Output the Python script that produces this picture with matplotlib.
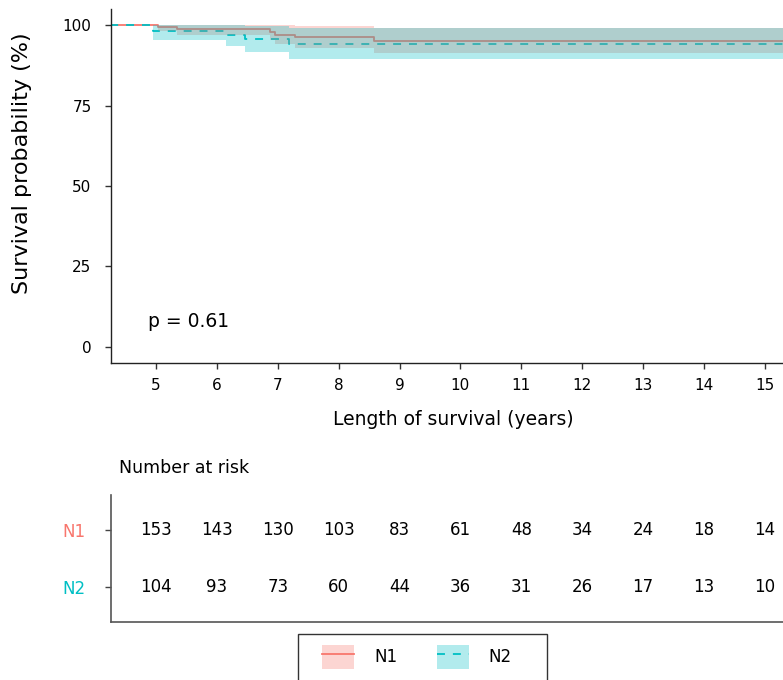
import matplotlib.pyplot as plt
from matplotlib.patches import Patch, Rectangle
from matplotlib.lines import Line2D

plt.rc('font', family='DejaVu Sans')

red_n1 = '#F8766D'
cyan_n2 = '#00BFC4'

# Kaplan-Meier steps (survival in %)
n1_time = [0, 5.03, 5.35, 6.88, 6.95, 7.29, 8.58, 16]
n1_surv = [100, 99.35, 98.7, 97.9, 97.0, 96.2, 95.1, 95.1]
n1_lower = [100, 98.1, 96.9, 95.5, 94.2, 92.9, 91.3, 91.3]
n1_upper = [100, 100, 100, 100, 99.9, 99.7, 99.2, 99.2]

n2_time = [0, 4.95, 6.15, 6.46, 7.18, 16]
n2_surv = [100, 98.1, 96.8, 95.6, 94.2, 94.2]
n2_lower = [100, 95.4, 93.5, 91.6, 89.6, 89.6]
n2_upper = [100, 100, 100, 99.8, 99.2, 99.2]

risk_times = [5, 6, 7, 8, 9, 10, 11, 12, 13, 14, 15]
risk_n1 = [153, 143, 130, 103, 83, 61, 48, 34, 24, 18, 14]
risk_n2 = [104, 93, 73, 60, 44, 36, 31, 26, 17, 13, 10]

W, H = 783, 680
fig = plt.figure(figsize=(W / 100, H / 100), dpi=100)

left = 111 / W
ax = fig.add_axes([left, (H - 363) / H, 1 - left, (363 - 9) / H])

# lines first, bands over them (the bands tint the lines)
ax.step(n1_time, n1_surv, where='post', color=red_n1, lw=1.3, zorder=2)
ax.step(n2_time, n2_surv, where='post', color=cyan_n2, lw=1.3,
        linestyle=(0, (4.4, 4.4)), zorder=2)
ax.fill_between(n1_time, n1_lower, n1_upper, step='post',
                color=red_n1, alpha=0.3, lw=0, zorder=3)
ax.fill_between(n2_time, n2_lower, n2_upper, step='post',
                color=cyan_n2, alpha=0.3, lw=0, zorder=3)

ax.set_xlim(4.26, 15.3)
ax.set_ylim(-5, 105)
ax.set_xticks(risk_times)
ax.set_yticks([0, 25, 50, 75, 100])
for s in ['top', 'right']:
    ax.spines[s].set_visible(False)
for s in ['left', 'bottom']:
    ax.spines[s].set_color('#222222')
    ax.spines[s].set_linewidth(1.0)
ax.tick_params(axis='both', length=4, width=1, color='#333333',
               labelsize=11, labelcolor='black')
ax.tick_params(axis='y', pad=10)
ax.tick_params(axis='x', pad=7)
ax.set_xlabel('Length of survival (years)', fontsize=13.5)
ax.set_ylabel('Survival probability (%)', fontsize=16)
ax.xaxis.set_label_coords(0.51, -0.133)
ax.yaxis.set_label_coords(-0.118, 0.565)
ax.text(4.87, 8, 'p = 0.61', fontsize=13.5, ha='left', va='center')

# risk table
ax_r = fig.add_axes([left, (H - 622) / H, 1 - left, (622 - 495) / H])
ax_r.set_xlim(4.26, 15.3)
ax_r.set_ylim(0.39, 2.61)
for t, a, b in zip(risk_times, risk_n1, risk_n2):
    ax_r.text(t, 2, str(a), ha='center', va='center', fontsize=12)
    ax_r.text(t, 1, str(b), ha='center', va='center', fontsize=12)
ax_r.set_xticks([])
ax_r.set_yticks([2, 1])
ax_r.set_yticklabels(['N1', 'N2'], fontsize=12)
ax_r.get_yticklabels()[0].set_color(red_n1)
ax_r.get_yticklabels()[1].set_color(cyan_n2)
ax_r.tick_params(axis='y', length=4, width=1, color='#444444', pad=14)
for s in ['top', 'right']:
    ax_r.spines[s].set_visible(False)
for s in ['left', 'bottom']:
    ax_r.spines[s].set_color('#555555')
    ax_r.spines[s].set_linewidth(1.2)
fig.text(119 / W, 1 - 468 / H, 'Number at risk', fontsize=12.5,
         ha='left', va='center')

# legend
fig.patches.append(Rectangle((298 / W, 1 - 700 / H), (547 - 298) / W,
                             (700 - 634) / H, transform=fig.transFigure,
                             facecolor='white', edgecolor='#333333',
                             lw=1.0))
h1 = (Patch(facecolor=red_n1, alpha=0.3, lw=0),
      Line2D([], [], color=red_n1, lw=1.3))
h2 = (Patch(facecolor=cyan_n2, alpha=0.3, lw=0),
      Line2D([], [], color=cyan_n2, lw=1.3, linestyle=(0, (4.4, 4.4))))
fig.legend([h1, h2], ['N1', 'N2'], ncol=2, frameon=False,
           loc='center', bbox_to_anchor=(417 / W, 1 - 657 / H),
           fontsize=12, handlelength=1.9, handleheight=1.8,
           handletextpad=1.2, columnspacing=2.4)

fig.savefig('out.png', dpi=100)
